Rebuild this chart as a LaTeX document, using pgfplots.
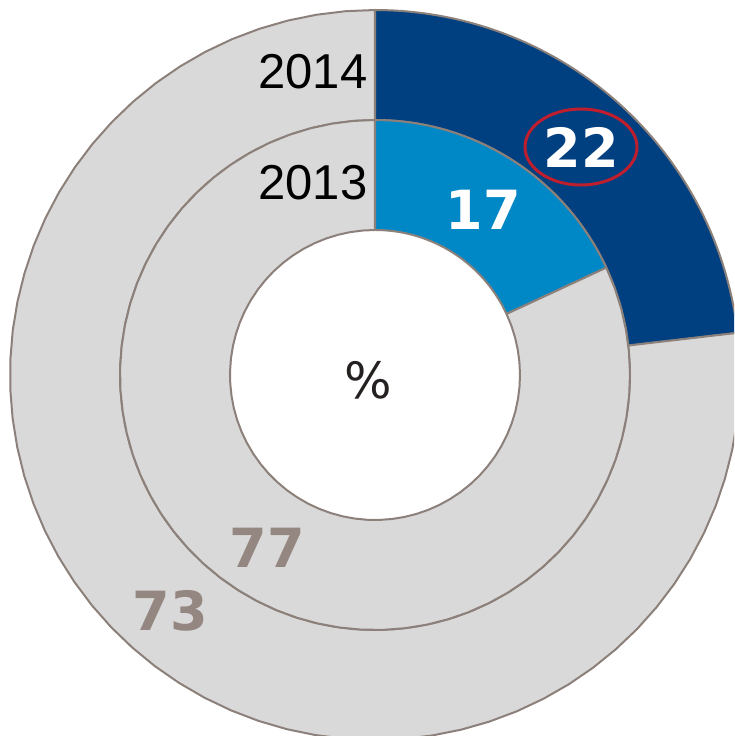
\documentclass[border=0pt]{standalone}
\usepackage{pgfplots}
\pgfplotsset{compat=1.18}
\usepackage{fontspec}
\setmainfont{Liberation Sans}
\newfontfamily\djv{DejaVu Sans}
\definecolor{darkblue}{RGB}{0,64,128}
\definecolor{lightblue}{RGB}{0,136,198}
\definecolor{ringgray}{RGB}{217,217,217}
\definecolor{bordc}{RGB}{140,128,122}
\definecolor{labc}{RGB}{148,134,128}
\definecolor{ovalred}{RGB}{190,30,45}
% values (percent) -- each ring is drawn relative to its own sum
\def\innerA{17}\def\innerB{77}  % 2013
\def\outerA{22}\def\outerB{73}  % 2014
% #1 colour, #2 start angle, #3 sweep (clockwise), #4 inner r, #5 outer r
\newcommand{\ringsector}[5]{%
  \addplot[fill=#1, draw=bordc, line width=2pt, line join=round,
    variable=\t, samples at={0,1,...,60,100,101,...,160,200}]
  ({((\t<80)||(\t>180) ? #5 : #4)*cos((\t<80) ? #2-\t/60*#3 : ((\t>180) ? #2 : #2-(160-\t)/60*#3))},
   {((\t<80)||(\t>180) ? #5 : #4)*sin((\t<80) ? #2-\t/60*#3 : ((\t>180) ? #2 : #2-(160-\t)/60*#3))});
}
\begin{document}
\begin{tikzpicture}
\begin{axis}[
  width=734pt, height=736pt, scale only axis,
  xmin=-375, xmax=359, ymin=-361, ymax=375,
  hide axis,
]
\pgfmathsetmacro{\sOA}{\outerA/(\outerA+\outerB)*360}
\pgfmathsetmacro{\sOB}{\outerB/(\outerA+\outerB)*360}
\pgfmathsetmacro{\sIA}{\innerA/(\innerA+\innerB)*360}
\pgfmathsetmacro{\sIB}{\innerB/(\innerA+\innerB)*360}
\pgfmathsetmacro{\aO}{90-\sOA}
\pgfmathsetmacro{\aI}{90-\sIA}
\ringsector{darkblue}{90}{\sOA}{255}{365}
\ringsector{ringgray}{\aO}{\sOB}{255}{365}
\ringsector{lightblue}{90}{\sIA}{145}{255}
\ringsector{ringgray}{\aI}{\sIB}{145}{255}

\node[font=\fontsize{49}{55}\selectfont] at (axis cs:-62,303) {2014};
\node[font=\fontsize{49}{55}\selectfont] at (axis cs:-62,192) {2013};
\node[font=\djv\bfseries\fontsize{54}{60}\selectfont, text=white] at (axis cs:206,228) {22};
\node[font=\djv\bfseries\fontsize{54}{60}\selectfont, text=white] at (axis cs:108,165) {17};
\node[font=\djv\bfseries\fontsize{54}{60}\selectfont, text=labc] at (axis cs:-108,-173) {77};
\node[font=\djv\bfseries\fontsize{54}{60}\selectfont, text=labc] at (axis cs:-205,-236) {73};
\node[font=\djv\fontsize{50}{56}\selectfont, text=black!75!labc] at (axis cs:-7,-5) {\%};
\draw[ovalred, line width=3pt] (axis cs:206,228) ellipse [x radius=56pt, y radius=38pt];
\end{axis}
\pgfresetboundingbox
\path (current axis.south west) rectangle (current axis.north east);
\end{tikzpicture}
\end{document}
